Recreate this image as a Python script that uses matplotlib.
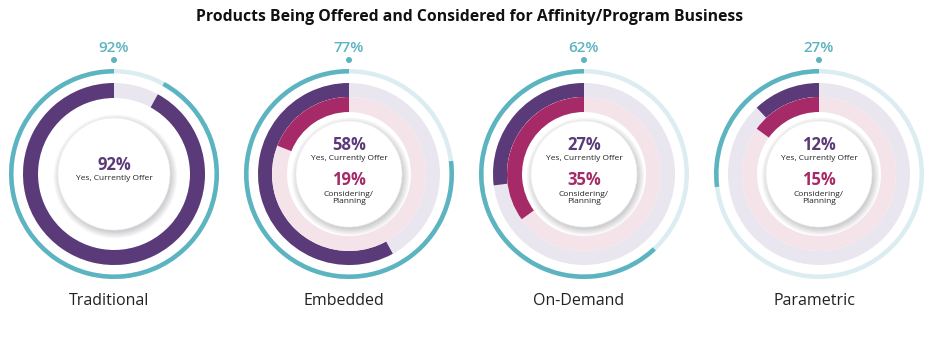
import numpy as np
import matplotlib.pyplot as plt
from matplotlib.patches import Wedge, Circle

# ~~~~~~~~~~~~~~~~~~~~~~~~~~~~~~ Data ~~~~~~~~~~~~~~~~~~~~~~~~~~~~~~
categories = ["Traditional", "Embedded", "On-Demand", "Parametric"]
offer = [92, 58, 27, 12]          # Yes, Currently Offer
considering = [0, 19, 35, 15]     # Considering/Planning
total = [92, 77, 62, 27]          # outer ring

title = "Products Being Offered and Considered for Affinity/Program Business"

# ~~~~~~~~~~~~~~~~~~~~~~~~~~~~~~ Style ~~~~~~~~~~~~~~~~~~~~~~~~~~~~~
purple = "#5a3a78"
magenta = "#a62a68"
teal = "#5cb4c0"
teal_light = "#dcedf1"
lav = "#e9e6ef"
pink = "#f4e4ea"
font = "Open Sans"

W, H = 941, 344
fig = plt.figure(figsize=(W / 100, H / 100), dpi=100)
ax = fig.add_axes([0, 0, 1, 1])
ax.set_xlim(0, W)
ax.set_ylim(0, H)
ax.set_aspect("equal")
ax.axis("off")

cx0, step, cy = 114, 235, 170


def ring(x, y, r, w, pct, color, track):
    ax.add_patch(Wedge((x, y), r, 0, 360, width=w, color=track, lw=0))
    if pct > 0:
        ax.add_patch(Wedge((x, y), r, 90, 90 + pct * 3.6, width=w, color=color, lw=0))


for i, cat in enumerate(categories):
    x = cx0 + i * step

    # outer teal ring
    ring(x, cy, 105, 4.5, total[i], teal, teal_light)
    ax.add_patch(Circle((x, cy + 114), 3, color=teal, lw=0))
    ax.text(x, cy + 126, f"{total[i]}%", ha="center", va="center",
            fontsize=11, fontweight="semibold", color=teal, family=font)

    if considering[i] == 0:
        ring(x, cy, 91, 15, offer[i], purple, lav)
        rc = 56
    else:
        ring(x, cy, 91, 14, offer[i], purple, lav)
        ring(x, cy, 77, 15, considering[i], magenta, pink)
        rc = 53

    # white centre disc with soft shadow
    for k in range(16):
        ax.add_patch(Circle((x + 1.5, cy - 2.5), rc + 6 - k * 0.45,
                            color="#6b6478", alpha=0.018, lw=0))
    ax.add_patch(Circle((x, cy), rc, facecolor="white", edgecolor="#f0f0f0", lw=0.5))

    if considering[i] == 0:
        ax.text(x, cy + 9, f"{offer[i]}%", ha="center", va="center",
                fontsize=12, fontweight="bold", color=purple, family=font)
        ax.text(x, cy - 5, "Yes, Currently Offer", ha="center", va="center",
                fontsize=6, color="#222222", family=font)
    else:
        ax.text(x, cy + 29, f"{offer[i]}%", ha="center", va="center",
                fontsize=12, fontweight="bold", color=purple, family=font)
        ax.text(x, cy + 15, "Yes, Currently Offer", ha="center", va="center",
                fontsize=6, color="#222222", family=font)
        ax.text(x, cy - 6, f"{considering[i]}%", ha="center", va="center",
                fontsize=12, fontweight="bold", color=magenta, family=font)
        ax.text(x, cy - 24, "Considering/\nPlanning", ha="center", va="center",
                fontsize=6, color="#222222", family=font, linespacing=1.1)

    ax.text(x - 5, cy - 127, cat, ha="center", va="center",
            fontsize=11.5, color="#222222", family=font)

ax.text(470, H - 17, title, ha="center", va="center",
        fontsize=11.3, fontweight="bold", color="#111111", family=font)

fig.savefig("out.png", dpi=100)
